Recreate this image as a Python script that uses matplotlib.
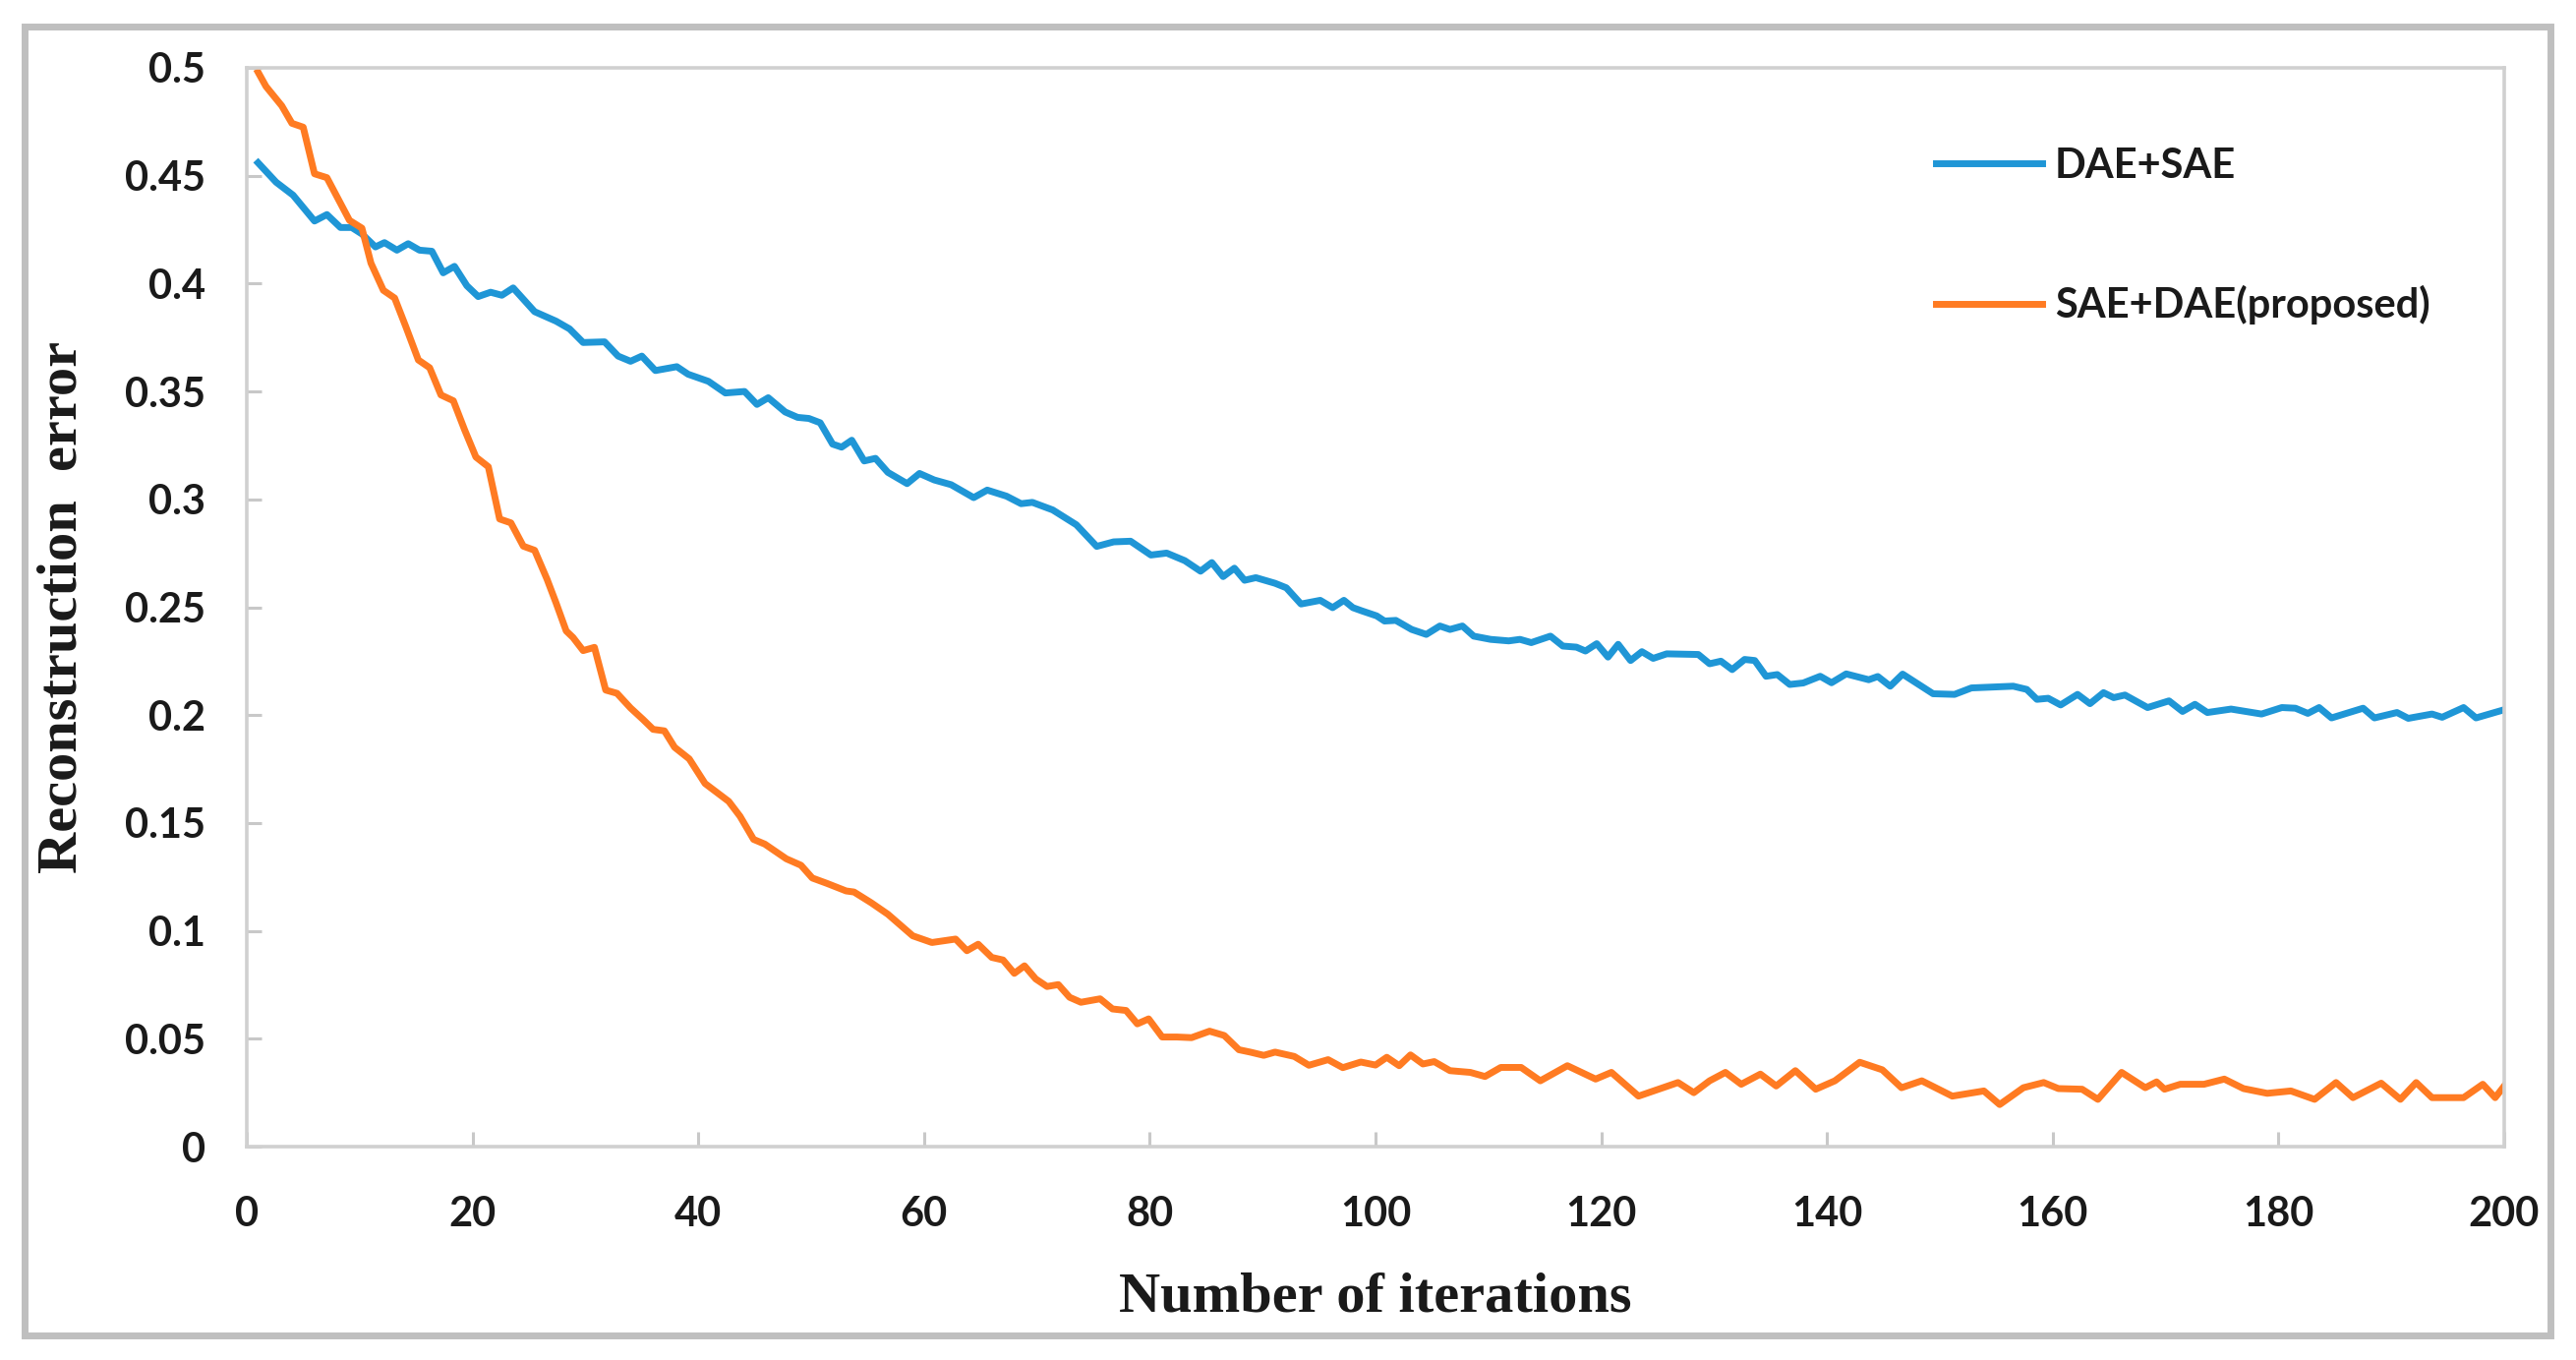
import matplotlib
matplotlib.use("Agg")
import matplotlib.pyplot as plt
from matplotlib.patches import Rectangle

# ---------------- data ----------------
dae_sae_x = [1, 2.6, 4.1, 6.0, 7.1, 8.3, 9.3, 10.2, 11.4, 12.2, 13.3, 14.3, 15.3, 16.4, 17.4, 18.4,
             19.5, 20.5, 21.6, 22.6, 23.6, 25.5, 27.4, 28.6, 29.8, 31.7, 32.9, 34.0, 35.0, 36.2, 38.1,
             39.1, 40.9, 42.4, 44.1, 45.2, 46.2, 47.7, 48.8, 49.8, 50.8, 51.9, 52.7, 53.6, 54.7, 55.7,
             56.8, 58.5, 59.6, 60.9, 62.4, 64.4, 65.6, 67.3, 68.6, 69.6, 71.4, 73.5, 75.3, 76.8, 78.3,
             80.1, 81.5, 83.1, 84.5, 85.5, 86.5, 87.5, 88.4, 89.4, 91.1, 92.1, 93.4, 95.1, 96.2, 97.2,
             98.0, 98.8, 100.1, 100.8, 101.8, 103.2, 104.5, 105.7, 106.6, 107.7, 108.7, 110.2, 111.8,
             112.8, 113.8, 115.5, 116.6, 117.8, 118.6, 119.6, 120.6, 121.5, 122.6, 123.6, 124.6, 125.8,
             128.6, 129.6, 130.6, 131.6, 132.7, 133.6, 134.6, 135.6, 136.7, 137.9, 139.4, 140.4, 141.7,
             143.7, 144.5, 145.6, 146.7, 149.4, 151.3, 152.8, 156.5, 157.7, 158.6, 159.6, 160.7, 162.2,
             163.3, 164.5, 165.4, 166.4, 168.4, 170.3, 171.5, 172.6, 173.7, 175.8, 178.5, 180.3, 181.5,
             182.6, 183.6, 184.7, 187.5, 188.5, 190.5, 191.5, 193.6, 194.5, 196.4, 197.5, 200]
dae_sae_y = [0.456, 0.447, 0.441, 0.429, 0.432, 0.426, 0.426, 0.423, 0.417, 0.419, 0.4155, 0.4185, 0.4155,
             0.415, 0.405, 0.408, 0.399, 0.394, 0.396, 0.3946, 0.398, 0.387, 0.3826, 0.379, 0.3727, 0.373,
             0.3664, 0.364, 0.3664, 0.3597, 0.3615, 0.358, 0.3547, 0.3493, 0.350, 0.344, 0.3471, 0.3405,
             0.338, 0.3375, 0.3355, 0.3256, 0.3242, 0.3274, 0.3178, 0.319, 0.3125, 0.3073, 0.312, 0.309,
             0.3068, 0.3008, 0.3043, 0.3015, 0.298, 0.2986, 0.2951, 0.2882, 0.2782, 0.2803, 0.2806,
             0.2742, 0.2751, 0.2716, 0.2667, 0.2707, 0.2642, 0.2681, 0.2625, 0.2637, 0.2611, 0.259,
             0.2515, 0.2532, 0.2498, 0.2532, 0.2498, 0.2483, 0.2460, 0.2436, 0.2439, 0.2397, 0.2374,
             0.2413, 0.2397, 0.2413, 0.2366, 0.2351, 0.2344, 0.2351, 0.2336, 0.2366, 0.2320, 0.2315,
             0.2297, 0.2331, 0.2269, 0.2328, 0.2253, 0.2294, 0.2263, 0.2284, 0.2281, 0.2238, 0.2250,
             0.2211, 0.2258, 0.2253, 0.2180, 0.2188, 0.2142, 0.2149, 0.2180, 0.2150, 0.2191, 0.2164,
             0.2179, 0.2134, 0.2190, 0.2099, 0.2096, 0.2126, 0.2134, 0.2119, 0.2073, 0.2078, 0.2047,
             0.2096, 0.2053, 0.2104, 0.2081, 0.2093, 0.2035, 0.2066, 0.2017, 0.2050, 0.2012, 0.2028,
             0.2005, 0.2035, 0.2032, 0.2008, 0.2035, 0.1987, 0.2032, 0.1987, 0.2012, 0.1985, 0.2005,
             0.1990, 0.2035, 0.1987, 0.2025]

sae_dae_x = [1, 1.7, 3.1, 4.0, 5.0, 6.0, 7.1, 8.1, 9.1, 10.2, 11.0, 12.1, 13.1, 14.1, 15.2, 16.2, 17.2,
             18.3, 19.3, 20.3, 21.4, 22.4, 23.4, 24.5, 25.5, 26.6, 27.4, 28.3, 28.9, 29.8, 30.8, 31.8,
             32.8, 34.0, 35.1, 36.0, 37.0, 37.9, 39.2, 40.6, 42.7, 43.7, 44.9, 45.9, 47.8, 49.1, 50.1,
             51.4, 53.1, 53.8, 55.3, 56.8, 59.0, 60.7, 62.8, 63.8, 64.8, 66.0, 67.0, 68.0, 68.9, 69.9,
             70.9, 71.9, 72.9, 73.9, 75.6, 76.7, 77.9, 78.9, 79.9, 81.1, 82.4, 83.7, 85.3, 86.6, 87.9,
             88.9, 90.1, 91.1, 92.8, 94.1, 95.8, 97.1, 98.7, 100.0, 101.0, 102.1, 103.1, 104.2, 105.2,
             106.6, 108.4, 109.7, 111.1, 112.9, 114.6, 117.0, 119.5, 120.9, 123.3, 126.8, 128.2, 129.6,
             131.0, 132.4, 134.1, 135.5, 137.2, 139.0, 140.7, 142.9, 144.9, 146.6, 148.4, 151.1, 153.9,
             155.3, 157.4, 159.2, 160.5, 162.6, 164.0, 166.1, 168.2, 169.2, 169.9, 171.3, 173.4, 175.2,
             176.9, 179.0, 181.1, 183.2, 185.1, 186.6, 189.1, 190.8, 192.2, 193.6, 196.4, 198.1, 199.2,
             200]
sae_dae_y = [0.498, 0.4914, 0.4824, 0.4743, 0.4725, 0.4509, 0.4491, 0.4392, 0.4293, 0.4257, 0.4095,
             0.3969, 0.3933, 0.3799, 0.3646, 0.361, 0.3484, 0.3457, 0.3322, 0.3196, 0.3151, 0.2909,
             0.2891, 0.2783, 0.2764, 0.263, 0.252, 0.239, 0.236, 0.2299, 0.2314, 0.2116, 0.2101, 0.2033,
             0.198, 0.1934, 0.1927, 0.1851, 0.1797, 0.1683, 0.160, 0.1531, 0.1424, 0.1402, 0.1334,
             0.1304, 0.1245, 0.122, 0.1185, 0.118, 0.1131, 0.1077, 0.0977, 0.0946, 0.0962, 0.0908,
             0.0938, 0.0877, 0.0865, 0.0803, 0.0838, 0.0777, 0.0742, 0.0751, 0.0692, 0.0669, 0.0685,
             0.0638, 0.0631, 0.0569, 0.0592, 0.0508, 0.0508, 0.0505, 0.0535, 0.0515, 0.0449, 0.0438,
             0.0423, 0.0438, 0.0418, 0.0377, 0.0403, 0.0366, 0.0392, 0.0378, 0.0414, 0.0375, 0.0425,
             0.0383, 0.0394, 0.0352, 0.0344, 0.0325, 0.0367, 0.0367, 0.0305, 0.0375, 0.0313, 0.0344,
             0.0234, 0.0297, 0.025, 0.0305, 0.0344, 0.0289, 0.0336, 0.0281, 0.0352, 0.0266, 0.0305,
             0.0391, 0.0356, 0.0273, 0.0305, 0.0234, 0.0258, 0.0195, 0.0273, 0.0297, 0.0269, 0.0266,
             0.0219, 0.0344, 0.0273, 0.030, 0.0266, 0.0289, 0.0289, 0.0313, 0.0269, 0.0247, 0.0258,
             0.0219, 0.0297, 0.0227, 0.0294, 0.0219, 0.0297, 0.0227, 0.0227, 0.0289, 0.0227, 0.0281]

series_labels = ["DAE+SAE", "SAE+DAE(proposed)"]
x_ticks = [0, 20, 40, 60, 80, 100, 120, 140, 160, 180, 200]
y_ticks = [0, 0.05, 0.1, 0.15, 0.2, 0.25, 0.3, 0.35, 0.4, 0.45, 0.5]
y_tick_labels = ["0", "0.05", "0.1", "0.15", "0.2", "0.25", "0.3", "0.35", "0.4", "0.45", "0.5"]
x_label = "Number of iterations"
y_label = "Reconstruction  error"

# ---------------- figure ----------------
W, H = 2620, 1383
fig = plt.figure(figsize=(W / 100, H / 100), dpi=100)
fig.patch.set_facecolor("white")

# outer grey frame
fig.patches.append(Rectangle((25 / W, 1 - 1358 / H), (2594 - 25) / W, (1358 - 27) / H,
                             transform=fig.transFigure, fill=False,
                             edgecolor="#bfbfbf", linewidth=5))

ax = fig.add_axes([251 / W, 1 - 1166 / H, (2547 - 251) / W, (1166 - 69) / H])

blue = "#1f96d6"
orange = "#ff7b22"
ax.plot(dae_sae_x, dae_sae_y, color=blue, lw=5, label=series_labels[0], solid_joinstyle="round")
ax.plot(sae_dae_x, sae_dae_y, color=orange, lw=5, label=series_labels[1], solid_joinstyle="round")

ax.set_xlim(0, 200)
ax.set_ylim(0, 0.5)
ax.set_xticks(x_ticks)
ax.set_xticklabels([str(t) for t in x_ticks])
ax.set_yticks(y_ticks)
ax.set_yticklabels(y_tick_labels)

for lab in ax.get_xticklabels() + ax.get_yticklabels():
    lab.set_fontfamily("Lato")
    lab.set_fontweight("bold")
    lab.set_fontsize(30)
    lab.set_color("#1a1a1a")

ax.tick_params(axis="both", direction="in", length=11, width=2.2, color="#c8c8c8")
ax.tick_params(axis="x", pad=36)
ax.tick_params(axis="y", pad=30)

for sp in ax.spines.values():
    sp.set_color("#d0d0d0")
    sp.set_linewidth(2.6)

fig.text((251 + 2547) / 2 / W, 1 - 1320 / H, x_label, ha="center", va="center",
         family="Liberation Serif", weight="bold", fontsize=42, color="#1a1a1a")
fig.text(64 / W, 1 - 617 / H, y_label, ha="center", va="center", rotation=90,
         family="Liberation Serif", weight="bold", fontsize=42, color="#1a1a1a")

leg = fig.legend(loc="upper left", bbox_to_anchor=(1969 / W, 1 - 150 / H),
                 frameon=False, prop=dict(family="Lato", weight="bold", size=30),
                 handlelength=2.6, handletextpad=0.3, labelspacing=2.45, borderpad=0,
                 borderaxespad=0)
for t in leg.get_texts():
    t.set_color("#1a1a1a")

fig.savefig("out.png", dpi=100, facecolor="white")
